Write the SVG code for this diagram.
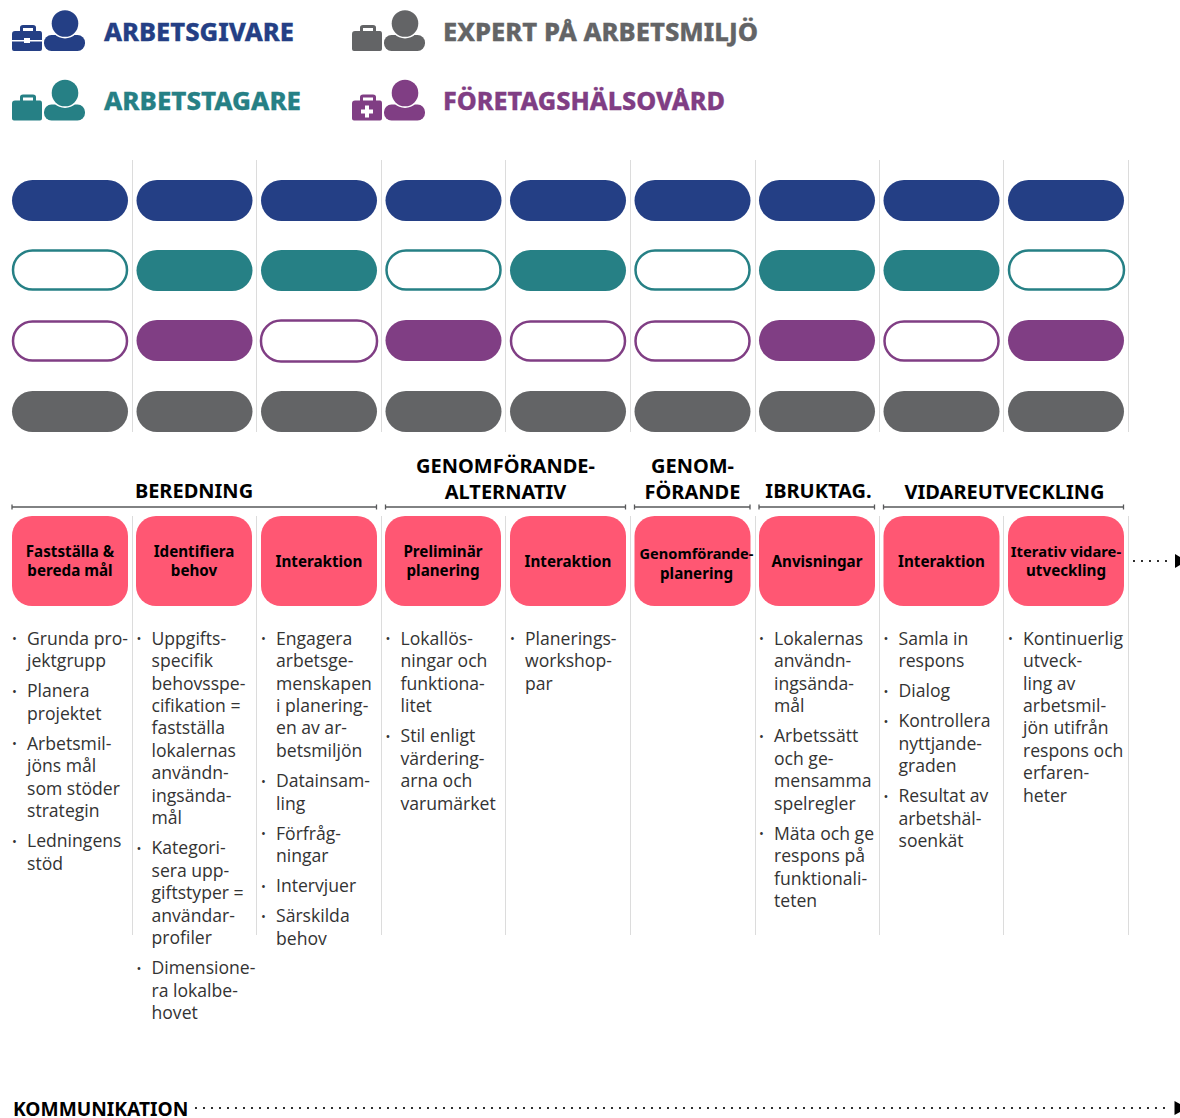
<svg xmlns="http://www.w3.org/2000/svg" xmlns:xlink="http://www.w3.org/1999/xlink" width="1180" height="1118" viewBox="0 0 1180 1118">
<style>
.sep{stroke:#dcdcdc;stroke-width:1;fill:none}
.head{font-family:"Noto Sans","DejaVu Sans",sans-serif;font-weight:700;fill:#000;text-anchor:middle;font-size:20px}
.leg{font-family:"Noto Sans","DejaVu Sans",sans-serif;font-weight:800;font-size:25px;stroke-width:.3;paint-order:stroke}
.box{font-family:"Noto Sans","DejaVu Sans",sans-serif;font-weight:700;font-size:15.200px;fill:#000;text-anchor:middle}
.b{font-family:"Open Sans","Noto Sans",sans-serif;font-size:17.600px;fill:#333}
.d{font-family:"Open Sans","Noto Sans",sans-serif;font-size:13px;fill:#333}
.blue{fill:#243f85}.teal{fill:#268085}.pur{fill:#803e84}.gray{fill:#636466}
.ot{fill:#fff;stroke:#268085;stroke-width:2.500}.op{fill:#fff;stroke:#803e84;stroke-width:2.500}
.pink{fill:#ff5773}
.br{stroke:#58595b;stroke-width:1.300;fill:none}
.dots{stroke:#000;stroke-width:2.200;stroke-linecap:round;stroke-dasharray:0 8;fill:none}
</style>
<defs>
<g id="person"><rect x="44" y="35" width="41" height="16" rx="7.500"/><circle cx="65" cy="23.500" r="15" fill="#fff"/><circle cx="65" cy="23.500" r="13.300"/></g>
<path id="case" d="M12 34Q12 31 15 31H20V27.500Q20 25 23 25H33Q36 25 36 27.500V31H40Q42 31 42 34V49Q42 51 40 51H14Q12 51 12 49ZM23 31H33V28H23Z" fill-rule="evenodd"/>
<rect id="pill" x="12" y="0" width="116" height="41" rx="20.500"/>
<rect id="pb" x="0" y="0" width="116" height="90" rx="20"/>
</defs>
<g id="grid">
<path class="sep" d="M132.500 160V432M256.500 160V432M381.500 160V432M505.500 160V432M630.500 160V432M755.500 160V432M879.500 160V432M1003.500 160V432M1128.500 160V432"/>
<path class="sep" d="M132.500 516V935M256.500 516V935M381.500 516V935M505.500 516V935M630.500 516V935M755.500 516V935M879.500 516V935M1003.500 516V935M1128.500 516V935"/>
</g>
<g id="legend-arbetsgivare" class="blue"><use href="#case"/><use href="#person"/><path d="M12 40H24V38H30V40H42V41.500H30V43H24V41.500H12Z" fill="#fff"/><text class="leg" x="104" y="41" stroke="#243f85" textLength="190" lengthAdjust="spacingAndGlyphs">ARBETSGIVARE</text></g>
<g id="legend-arbetstagare" class="teal" ><g transform="translate(0 69.500)"><use href="#case"/><use href="#person"/></g><text class="leg" x="104" y="110" stroke="#268085" textLength="197" lengthAdjust="spacingAndGlyphs">ARBETSTAGARE</text></g>
<g id="legend-expert" class="gray"><g transform="translate(340 0)"><use href="#case"/><use href="#person"/></g><text class="leg" x="443" y="41" stroke="#636466" textLength="315" lengthAdjust="spacingAndGlyphs">EXPERT PÅ ARBETSMILJÖ</text></g>
<g id="legend-fhv" class="pur"><g transform="translate(340 69.500)"><use href="#case"/><use href="#person"/><path d="M25 36H29V40H33V44H29V48H25V44H21V40H25Z" fill="#fff"/></g><text class="leg" x="443" y="110" stroke="#803e84" textLength="282" lengthAdjust="spacingAndGlyphs">FÖRETAGSHÄLSOVÅRD</text></g>
<g id="row-arbetsgivare" class="blue">
<use href="#pill" y="180"/><use href="#pill" x="124.500" y="180"/><use href="#pill" x="249" y="180"/><use href="#pill" x="373.500" y="180"/><use href="#pill" x="498" y="180"/><use href="#pill" x="622.500" y="180"/><use href="#pill" x="747" y="180"/><use href="#pill" x="871.500" y="180"/><use href="#pill" x="996" y="180"/>
</g>
<g id="row-arbetstagare">
<rect class="ot" x="13" y="250.500" width="114" height="39" rx="19.500"/>
<use class="teal" href="#pill" x="124.500" y="250"/><use class="teal" href="#pill" x="249" y="250"/>
<rect class="ot" x="386.500" y="250.500" width="114" height="39" rx="19.500"/>
<use class="teal" href="#pill" x="498" y="250"/>
<rect class="ot" x="635.500" y="250.500" width="114" height="39" rx="19.500"/>
<use class="teal" href="#pill" x="747" y="250"/><use class="teal" href="#pill" x="871.500" y="250"/>
<rect class="ot" x="1009" y="250.500" width="115" height="39" rx="19.500"/>
</g>
<g id="row-fhv">
<rect class="op" x="13" y="321.500" width="114" height="39" rx="19.500"/>
<use class="pur" href="#pill" x="124.500" y="320"/>
<rect class="op" x="261" y="320.500" width="116" height="41" rx="20"/>
<use class="pur" href="#pill" x="373.500" y="320"/>
<rect class="op" x="511" y="321.500" width="114" height="39" rx="19.500"/>
<rect class="op" x="635.500" y="321.500" width="114" height="39" rx="19.500"/>
<use class="pur" href="#pill" x="747" y="320"/>
<rect class="op" x="884.500" y="321.500" width="114" height="39" rx="19.500"/>
<use class="pur" href="#pill" x="996" y="320"/>
</g>
<g id="row-expert" class="gray">
<use href="#pill" y="391"/><use href="#pill" x="124.500" y="391"/><use href="#pill" x="249" y="391"/><use href="#pill" x="373.500" y="391"/><use href="#pill" x="498" y="391"/><use href="#pill" x="622.500" y="391"/><use href="#pill" x="747" y="391"/><use href="#pill" x="871.500" y="391"/><use href="#pill" x="996" y="391"/>
</g>
<g id="phases">
<path class="br" d="M12 507H376.500M12 504.500V509.500M376.500 504.500V509.500M385.500 507H625.500M385.500 504.500V509.500M625.500 504.500V509.500M634.500 507H750M634.500 504.500V509.500M750 504.500V509.500M759 507H874.500M759 504.500V509.500M874.500 504.500V509.500M883.500 507H1123.500M883.500 504.500V509.500M1123.500 504.500V509.500"/>
<text class="head" x="194" y="498">BEREDNING</text>
<text class="head" x="505.500" y="473">GENOMFÖRANDE-</text><text class="head" x="505.500" y="499">ALTERNATIV</text>
<text class="head" x="692.500" y="473">GENOM-</text><text class="head" x="692.500" y="499">FÖRANDE</text>
<text class="head" x="818.500" y="498">IBRUKTAG.</text>
<text class="head" x="1004.500" y="499">VIDAREUTVECKLING</text>
</g>
<g id="step1"><use class="pink" href="#pb" x="12" y="516"/><text class="box" x="70" y="557">Fastställa &amp;</text><text class="box" x="70" y="576">bereda mål</text></g>
<g id="step2"><use class="pink" href="#pb" x="136" y="516"/><text class="box" x="194" y="557">Identifiera</text><text class="box" x="194" y="576">behov</text></g>
<g id="step3"><use class="pink" href="#pb" x="261" y="516"/><text class="box" x="319" y="567">Interaktion</text></g>
<g id="step4"><use class="pink" href="#pb" x="385" y="516"/><text class="box" x="443" y="557">Preliminär</text><text class="box" x="443" y="576">planering</text></g>
<g id="step5"><use class="pink" href="#pb" x="510" y="516"/><text class="box" x="568" y="567">Interaktion</text></g>
<g id="step6"><use class="pink" href="#pb" x="634.500" y="516"/><text class="box" x="696.500" y="559" style="font-size:14.600px">Genomförande-</text><text class="box" x="696.500" y="579">planering</text></g>
<g id="step7"><use class="pink" href="#pb" x="759" y="516"/><text class="box" x="817" y="567">Anvisningar</text></g>
<g id="step8"><use class="pink" href="#pb" x="883.500" y="516"/><text class="box" x="941.500" y="567">Interaktion</text></g>
<g id="step9"><use class="pink" href="#pb" x="1008" y="516"/><text class="box" x="1066" y="557" style="font-size:14.800px">Iterativ vidare-</text><text class="box" x="1066" y="576">utveckling</text></g>
<g id="connectors">
<path class="dots" d="M1134 561H1170"/><path d="M1175 554L1180 557V565L1175 568Z"/>
<path class="dots" d="M196 1108H1172"/><path d="M1174.500 1101L1180 1104V1112L1174.500 1115Z"/>
</g>
<text id="kommunikation" x="13" y="1115.500" style="font-family:'Noto Sans',sans-serif;font-weight:700;font-size:19.200px">KOMMUNIKATION</text>
<g id="list1"><text class="d" x="12" y="643">•</text><text class="b" x="27" y="644.500">Grunda pro-</text><text class="b" x="27" y="667">jektgrupp</text>
<text class="d" x="12" y="696">•</text><text class="b" x="27" y="697">Planera</text><text class="b" x="27" y="719.500">projektet</text>
<text class="d" x="12" y="748">•</text><text class="b" x="27" y="749.500">Arbetsmil-</text><text class="b" x="27" y="772">jöns mål</text><text class="b" x="27" y="794.500">som stöder</text><text class="b" x="27" y="817">strategin</text>
<text class="d" x="12" y="846">•</text><text class="b" x="27" y="847">Ledningens</text><text class="b" x="27" y="869.500">stöd</text></g>
<g id="list2"><text class="d" x="136.500" y="643">•</text><text class="b" x="151.500" y="644.500">Uppgifts-</text><text class="b" x="151.500" y="667">specifik</text><text class="b" x="151.500" y="689.500">behovsspe-</text><text class="b" x="151.500" y="711.500">cifikation =</text><text class="b" x="151.500" y="734">fastställa</text><text class="b" x="151.500" y="756.500">lokalernas</text><text class="b" x="151.500" y="779">användn-</text><text class="b" x="151.500" y="801.500">ingsända-</text><text class="b" x="151.500" y="824">mål</text>
<text class="d" x="136.500" y="853">•</text><text class="b" x="151.500" y="854">Kategori-</text><text class="b" x="151.500" y="876.500">sera upp-</text><text class="b" x="151.500" y="899">giftstyper =</text><text class="b" x="151.500" y="921.500">användar-</text><text class="b" x="151.500" y="944">profiler</text>
<text class="d" x="136.500" y="973">•</text><text class="b" x="151.500" y="974">Dimensione-</text><text class="b" x="151.500" y="996.500">ra lokalbe-</text><text class="b" x="151.500" y="1019">hovet</text></g>
<g id="list3"><text class="d" x="261" y="643">•</text><text class="b" x="276" y="644.500">Engagera</text><text class="b" x="276" y="667">arbetsge-</text><text class="b" x="276" y="689.500">menskapen</text><text class="b" x="276" y="711.500">i planering-</text><text class="b" x="276" y="734">en av ar-</text><text class="b" x="276" y="756.500">betsmiljön</text>
<text class="d" x="261" y="786">•</text><text class="b" x="276" y="787">Datainsam-</text><text class="b" x="276" y="809.500">ling</text>
<text class="d" x="261" y="838">•</text><text class="b" x="276" y="839.500">Förfråg-</text><text class="b" x="276" y="862">ningar</text>
<text class="d" x="261" y="891">•</text><text class="b" x="276" y="892">Intervjuer</text>
<text class="d" x="261" y="921">•</text><text class="b" x="276" y="922">Särskilda</text><text class="b" x="276" y="944.500">behov</text></g>
<g id="list4"><text class="d" x="385.500" y="643">•</text><text class="b" x="400.500" y="644.500">Lokallös-</text><text class="b" x="400.500" y="667">ningar och</text><text class="b" x="400.500" y="689.500">funktiona-</text><text class="b" x="400.500" y="711.500">litet</text>
<text class="d" x="385.500" y="741">•</text><text class="b" x="400.500" y="742">Stil enligt</text><text class="b" x="400.500" y="764.500">värdering-</text><text class="b" x="400.500" y="787">arna och</text><text class="b" x="400.500" y="809.500">varumärket</text></g>
<g id="list5"><text class="d" x="510" y="643">•</text><text class="b" x="525" y="644.500">Planerings-</text><text class="b" x="525" y="667">workshop-</text><text class="b" x="525" y="689.500">par</text></g>
<g id="list7"><text class="d" x="759" y="643">•</text><text class="b" x="774" y="644.500">Lokalernas</text><text class="b" x="774" y="667">användn-</text><text class="b" x="774" y="689.500">ingsända-</text><text class="b" x="774" y="711.500">mål</text>
<text class="d" x="759" y="741">•</text><text class="b" x="774" y="742">Arbetssätt</text><text class="b" x="774" y="764.500">och ge-</text><text class="b" x="774" y="787">mensamma</text><text class="b" x="774" y="809.500">spelregler</text>
<text class="d" x="759" y="838">•</text><text class="b" x="774" y="839.500">Mäta och ge</text><text class="b" x="774" y="862">respons på</text><text class="b" x="774" y="884.500">funktionali-</text><text class="b" x="774" y="907">teten</text></g>
<g id="list8"><text class="d" x="883.500" y="643">•</text><text class="b" x="898.500" y="644.500">Samla in</text><text class="b" x="898.500" y="667">respons</text>
<text class="d" x="883.500" y="696">•</text><text class="b" x="898.500" y="697">Dialog</text>
<text class="d" x="883.500" y="726">•</text><text class="b" x="898.500" y="727">Kontrollera</text><text class="b" x="898.500" y="749.500">nyttjande-</text><text class="b" x="898.500" y="772">graden</text>
<text class="d" x="883.500" y="801">•</text><text class="b" x="898.500" y="802">Resultat av</text><text class="b" x="898.500" y="824.500">arbetshäl-</text><text class="b" x="898.500" y="847">soenkät</text></g>
<g id="list9"><text class="d" x="1008" y="643">•</text><text class="b" x="1023" y="644.500">Kontinuerlig</text><text class="b" x="1023" y="667">utveck-</text><text class="b" x="1023" y="689.500">ling av</text><text class="b" x="1023" y="711.500">arbetsmil-</text><text class="b" x="1023" y="734">jön utifrån</text><text class="b" x="1023" y="756.500">respons och</text><text class="b" x="1023" y="779">erfaren-</text><text class="b" x="1023" y="801.500">heter</text></g>
</svg>
